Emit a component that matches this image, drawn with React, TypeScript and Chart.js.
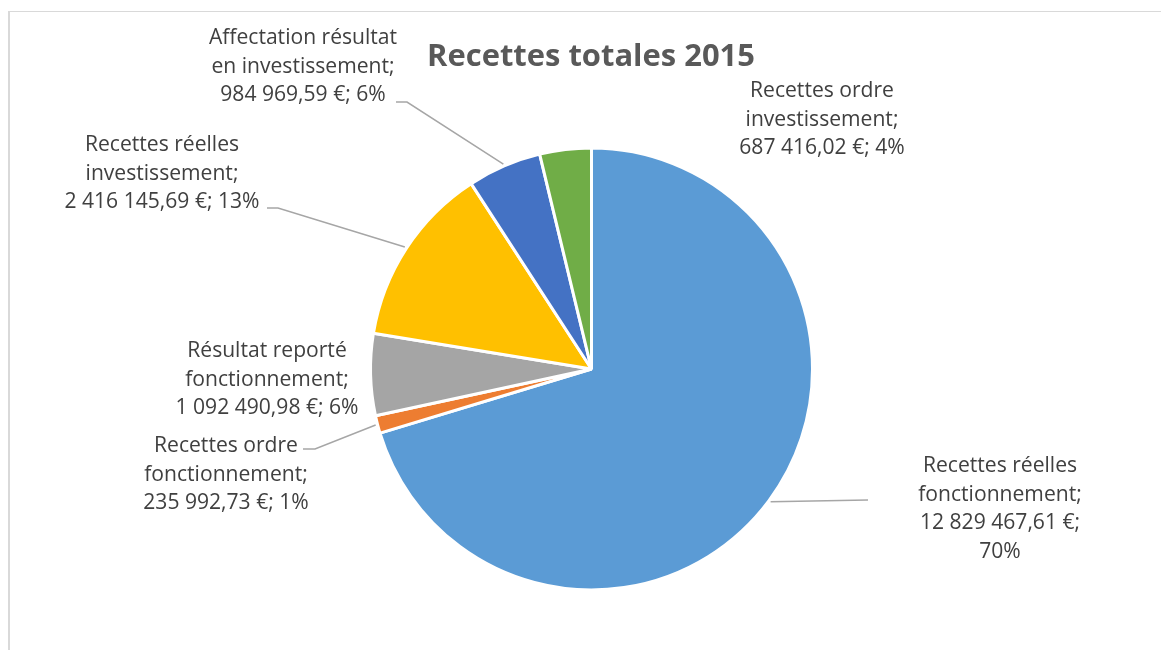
import React, { useEffect, useRef } from "react";
import { Chart, registerables } from "chart.js";

Chart.register(...registerables);

const title = "Recettes totales 2015";
const categories = [
  "Recettes réelles fonctionnement",
  "Recettes ordre fonctionnement",
  "Résultat reporté fonctionnement",
  "Recettes réelles investissement",
  "Affectation résultat en investissement",
  "Recettes ordre investissement",
];
const values = [12829467.61, 235992.73, 1092490.98, 2416145.69, 984969.59, 687416.02];
const colors = ["#5B9BD5", "#ED7D31", "#A5A5A5", "#FFC000", "#4472C4", "#70AD47"];

// label layout (center x, first line center y, wrap percent onto own line, leader points)
const labelLayout = [
  { x: 1000, y: 466, wrapPct: true, leader: [[868, 500]] },
  { x: 226, y: 446, wrapPct: false, leader: [[315, 449], [303, 449]] },
  { x: 267, y: 351, wrapPct: false, leader: null },
  { x: 162, y: 145, wrapPct: false, leader: [[278, 208], [267, 208]] },
  { x: 303, y: 38, wrapPct: false, leader: [[407, 102], [396, 102]] },
  { x: 822, y: 91, wrapPct: false, leader: null },
];

const FONT = "'Open Sans', sans-serif";

function formatEuro(v: number): string {
  const [intPart, dec] = v.toFixed(2).split(".");
  const grouped = intPart.replace(/\B(?=(\d{3})+(?!\d))/g, " ");
  return `${grouped},${dec} €`;
}

// percentages rounded so that they sum to 100 (largest remainder)
function percents(vals: number[]): number[] {
  const total = vals.reduce((a, b) => a + b, 0);
  const raw = vals.map((v) => (v / total) * 100);
  const fl = raw.map(Math.floor);
  let rest = 100 - fl.reduce((a, b) => a + b, 0);
  const order = raw.map((r, i) => [r - Math.floor(r), i]).sort((a, b) => b[0] - a[0]);
  for (let k = 0; k < rest; k++) fl[order[k][1]] += 1;
  return fl;
}

export default function App() {
  const ref = useRef<HTMLCanvasElement | null>(null);

  useEffect(() => {
    document.body.style.margin = "0";
    const canvas = ref.current;
    if (!canvas) return;
    const pcts = percents(values);

    const decor = {
      id: "decor",
      afterDraw(chart: any) {
        const ctx = chart.ctx as CanvasRenderingContext2D;
        ctx.save();
        // frame
        ctx.strokeStyle = "#D9D9D9";
        ctx.lineWidth = 1;
        ctx.beginPath();
        ctx.moveTo(9, 11.5);
        ctx.lineTo(1161, 11.5);
        ctx.stroke();
        ctx.lineWidth = 2;
        ctx.beginPath();
        ctx.moveTo(9, 11);
        ctx.lineTo(9, 650);
        ctx.stroke();

        // title, sized to the reference width
        ctx.font = `bold 20px ${FONT}`;
        const tw = ctx.measureText(title).width;
        const tSize = (20 * 328) / tw;
        ctx.fillStyle = "#595959";
        ctx.font = `bold ${tSize}px ${FONT}`;
        ctx.textAlign = "center";
        ctx.textBaseline = "middle";
        ctx.fillText(title, 591, 57);

        // label font sized to reference width of "Recettes ordre"
        ctx.font = `20px ${FONT}`;
        const lw = ctx.measureText("Recettes ordre").width;
        const lSize = (20 * 144) / lw;
        ctx.font = `${lSize}px ${FONT}`;

        const meta = chart.getDatasetMeta(0);
        const lh = 28.6;
        meta.data.forEach((arc: any, i: number) => {
          const lay = labelLayout[i];
          const words = categories[i].split(" ");
          const lines = [words.slice(0, 2).join(" "), words.slice(2).join(" ") + ";"];
          const pct = pcts[i] + "%";
          if (lay.wrapPct) {
            lines.push(formatEuro(values[i]) + ";");
            lines.push(pct);
          } else {
            lines.push(formatEuro(values[i]) + "; " + pct);
          }
          ctx.fillStyle = "#404040";
          lines.forEach((ln, k) => ctx.fillText(ln, lay.x, lay.y + k * lh));

          if (lay.leader) {
            const p = arc.getProps(["x", "y", "startAngle", "endAngle", "outerRadius"], true);
            const mid = (p.startAngle + p.endAngle) / 2;
            const r = p.outerRadius + 2;
            const ax = p.x + Math.cos(mid) * r;
            const ay = p.y + Math.sin(mid) * r;
            ctx.strokeStyle = "#A6A6A6";
            ctx.lineWidth = 1.5;
            ctx.beginPath();
            ctx.moveTo(ax, ay);
            lay.leader.forEach(([lx, ly]) => ctx.lineTo(lx, ly));
            ctx.stroke();
          }
        });
        ctx.restore();
      },
    };

    const chart = new Chart(canvas, {
      type: "pie",
      data: {
        labels: categories,
        datasets: [
          {
            data: values,
            backgroundColor: colors,
            borderColor: "#FFFFFF",
            borderWidth: 3,
          },
        ],
      },
      options: {
        animation: false,
        responsive: false,
        maintainAspectRatio: false,
        layout: { padding: { left: 369, right: 347, top: 146, bottom: 58 } },
        plugins: {
          legend: { display: false },
          tooltip: { enabled: false },
          title: { display: false },
        },
      },
      plugins: [decor],
    });
    return () => chart.destroy();
  }, []);

  return (
    <div style={{ width: 1161, height: 650, background: "#fff" }}>
      <canvas ref={ref} width={1161} height={650} style={{ display: "block" }} />
    </div>
  );
}
